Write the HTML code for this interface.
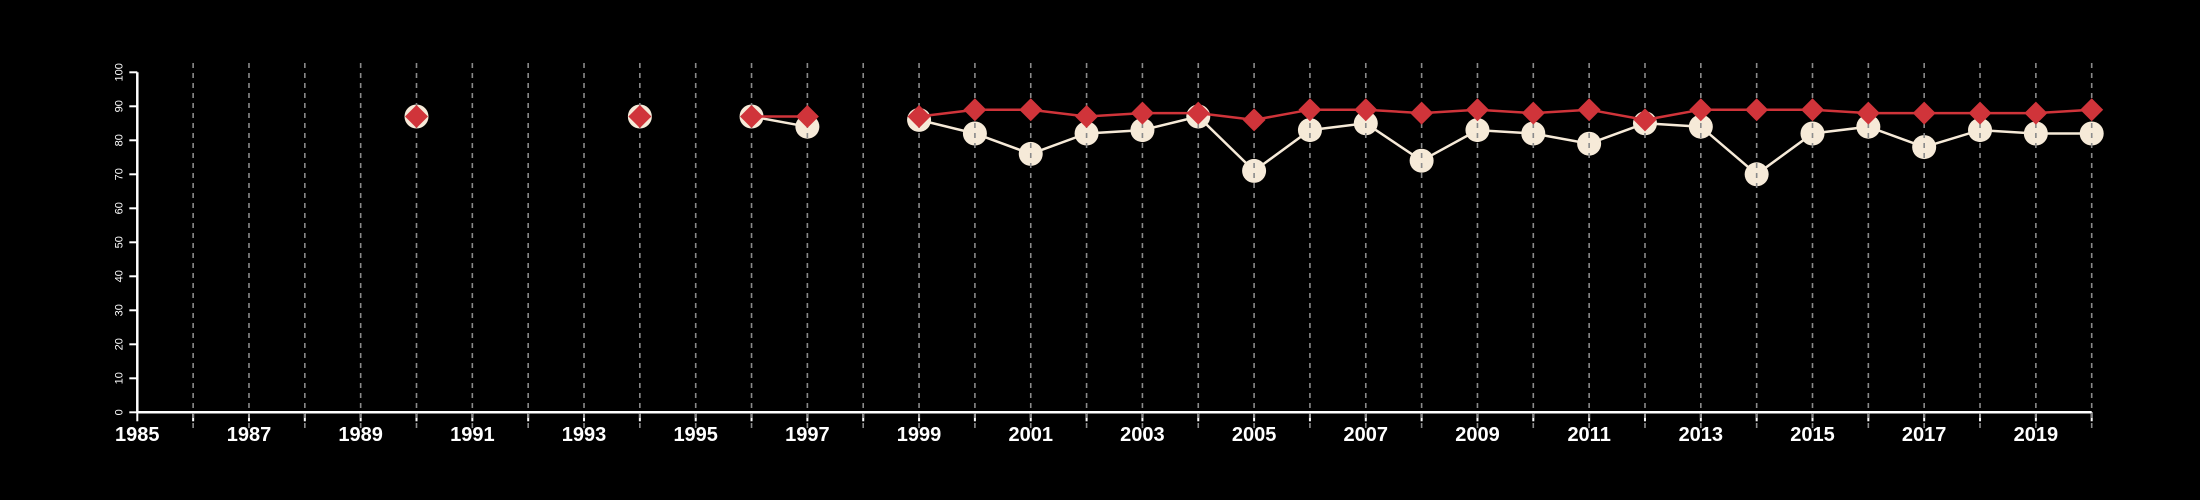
<!DOCTYPE html>
<html><head><meta charset="utf-8"><style>
html,body{margin:0;padding:0;background:#000;}
svg{display:block;font-family:"Liberation Sans",Arial,sans-serif;}
</style></head><body>
<svg id="chart" width="2200" height="500" viewBox="0 0 2200 500" xmlns="http://www.w3.org/2000/svg">
<rect width="2200" height="500" fill="#000"/>
</svg>
<script>
const years = [1990,1994,1996,1997,1999,2000,2001,2002,2003,2004,2005,2006,2007,2008,2009,2010,2011,2012,2013,2014,2015,2016,2017,2018,2019,2020];
const seriesA = [87,87,87,84,86,82,76,82,83,87,71,83,85,74,83,82,79,85,84,70,82,84,78,83,82,82];
const seriesB = [87,87,87,87,87,89,89,87,88,88,86,89,89,88,89,88,89,86,89,89,89,88,88,88,88,89];
const xTickLabels = [1985,1987,1989,1991,1993,1995,1997,1999,2001,2003,2005,2007,2009,2011,2013,2015,2017,2019];
const yTickLabels = [0,10,20,30,40,50,60,70,80,90,100];

const NS='http://www.w3.org/2000/svg';
const svg=document.getElementById('chart');
const X0=137.3, XPY=55.84, Y0=412.3, YPU=3.4;
const xs=y=>X0+(y-1985)*XPY;
const ys=v=>Y0-v*YPU;
function mk(tag,attrs,parent){const e=document.createElementNS(NS,tag);for(const k in attrs)e.setAttribute(k,attrs[k]);(parent||svg).appendChild(e);return e;}

// axes
const axes=mk('g',{});


const xl=mk('line',{x1:xs(1985),x2:xs(2020),y1:Y0,y2:Y0,stroke:'#fff','stroke-width':2.5},axes);


const yl=mk('line',{x1:X0,x2:X0,y1:ys(0),y2:ys(100),stroke:'#fff','stroke-width':2.5},axes);


for(let y=1985;y<=2020;y++){
  const t=mk('line',{x1:xs(y),x2:xs(y),y1:Y0,y2:Y0+9,stroke:'#fff','stroke-width':2},axes);
  
  
}
xTickLabels.forEach(v=>{
  const t=mk('text',{x:xs(v),y:441,'text-anchor':'middle',fill:'#fff','font-size':20,'font-weight':'bold'},axes);
  t.textContent=v;
  
  
});
yTickLabels.forEach(v=>{
  const t=mk('line',{x1:X0-8,x2:X0,y1:ys(v),y2:ys(v),stroke:'#fff','stroke-width':2},axes);
  
  
  const l=mk('text',{x:0,y:0,'text-anchor':'middle',fill:'#fff','font-size':11,transform:`translate(${X0-15},${ys(v)}) rotate(-90)`},axes);
  l.textContent=v;
  
  
});

function segments(vals){const segs=[];let cur=[];years.forEach((y,i)=>{if(cur.length&&y-years[i-1]!==1){segs.push(cur);cur=[];}cur.push([xs(y),ys(vals[i])]);});if(cur.length)segs.push(cur);return segs;}

// series A line + circles
segments(seriesA).forEach(s=>{if(s.length>1){const p=mk('polyline',{points:s.map(q=>q.join(',')).join(' '),fill:'none',stroke:'#f6ead8','stroke-width':2.5});}});
years.forEach((y,i)=>{const c=mk('circle',{cx:xs(y),cy:ys(seriesA[i]),r:12,fill:'#f6ead8'});});

// grid
for(let y=1986;y<=2020;y++){
  const g=mk('line',{x1:xs(y),x2:xs(y),y1:63,y2:431,stroke:'#8a8a8a','stroke-width':1.6,'stroke-dasharray':'5,5'});
  
  
}

// series B line + diamonds
segments(seriesB).forEach(s=>{if(s.length>1){const p=mk('polyline',{points:s.map(q=>q.join(',')).join(' '),fill:'none',stroke:'#d0343a','stroke-width':2.5});}});
years.forEach((y,i)=>{const cx=xs(y),cy=ys(seriesB[i]),r=11.5;const d=mk('polygon',{points:`${cx},${cy-r} ${cx+r},${cy} ${cx},${cy+r} ${cx-r},${cy}`,fill:'#d0343a'});});
</script>
</body></html>
